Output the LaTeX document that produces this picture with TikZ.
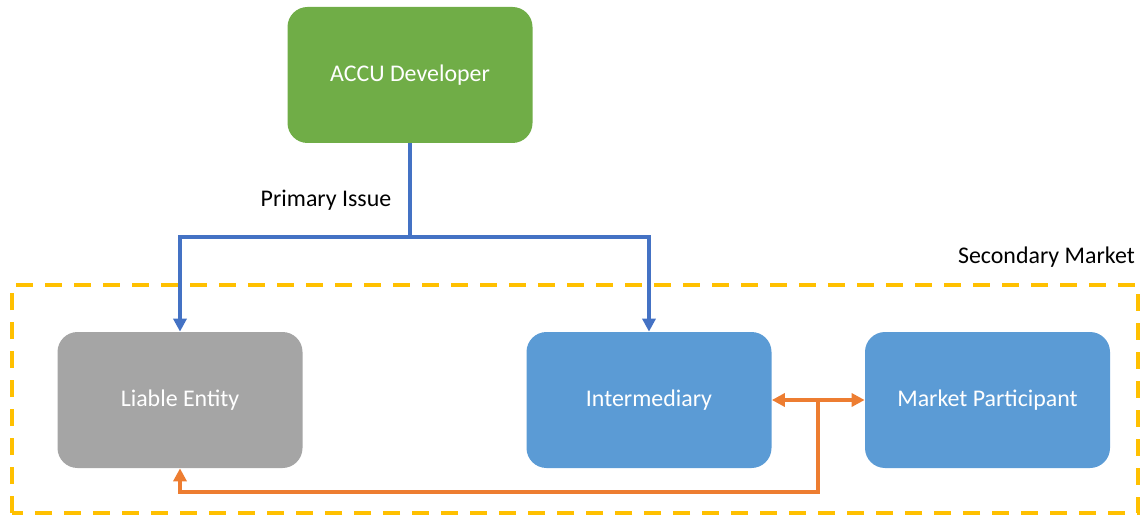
\documentclass[tikz,border=0pt]{standalone}
\usepackage{fontspec}
\setmainfont{Carlito}
\usetikzlibrary{arrows.meta}
\definecolor{devgreen}{HTML}{70AD47}
\definecolor{liabgray}{HTML}{A5A5A5}
\definecolor{boxblue}{HTML}{5B9BD5}
\definecolor{lineblue}{HTML}{4472C4}
\definecolor{lineorange}{HTML}{ED7D31}
\definecolor{secgold}{HTML}{FFC000}
\begin{document}
\begin{tikzpicture}
	\tikzset{box/.style=
        {rounded corners=0.4cm, text=white, align=center, minimum height=2.72cm, minimum width=4.9cm, font=\fontsize{13.6}{16}\selectfont},
        lbl/.style={font=\fontsize{13.6}{16}\selectfont},
        issue/.style={line width=2.3pt, draw=lineblue, -{Triangle[length=0.26cm,width=0.26cm]}},
        trade/.style={line width=2.3pt, draw=lineorange, -{Triangle[length=0.26cm,width=0.26cm]}}
     }
	\useasboundingbox (0,0) rectangle (22.86,10.3);
	\node (dev) at (8.2,8.8) [box, fill=devgreen] {ACCU Developer};
	\node (liab) at (3.6,2.3) [box, fill=liabgray] {Liable Entity};
	\node (inter) at (12.98,2.3) [box, fill=boxblue] {Intermediary};
	\node (mkt) at (19.75,2.3) [box, fill=boxblue] {Market Participant};
	\node (prim) at (6.52,6.3) [lbl] {Primary Issue};
	\node (sec) at (22.82,5.16) [lbl, anchor=east] {Secondary Market};
	\coordinate (split) at (8.2,5.56);
	\coordinate (tee) at (16.36,2.3);
	
	\draw[line width=2.3pt, draw=secgold, dash pattern=on 0.34cm off 0.24cm] (0.24,0.04) rectangle (22.76,4.6);
	\draw[line width=2.3pt, draw=lineblue] (dev.south) -- (split);
	\draw[issue] (split) -| (liab.north);
	\draw[issue] (split) -| (inter.north);
	\draw[trade] (tee) -- (inter.east);
	\draw[trade] (tee) -- (mkt.west);
	\draw[trade] (tee) |- (8,0.46) -| (liab.south);
\end{tikzpicture}
\end{document}
